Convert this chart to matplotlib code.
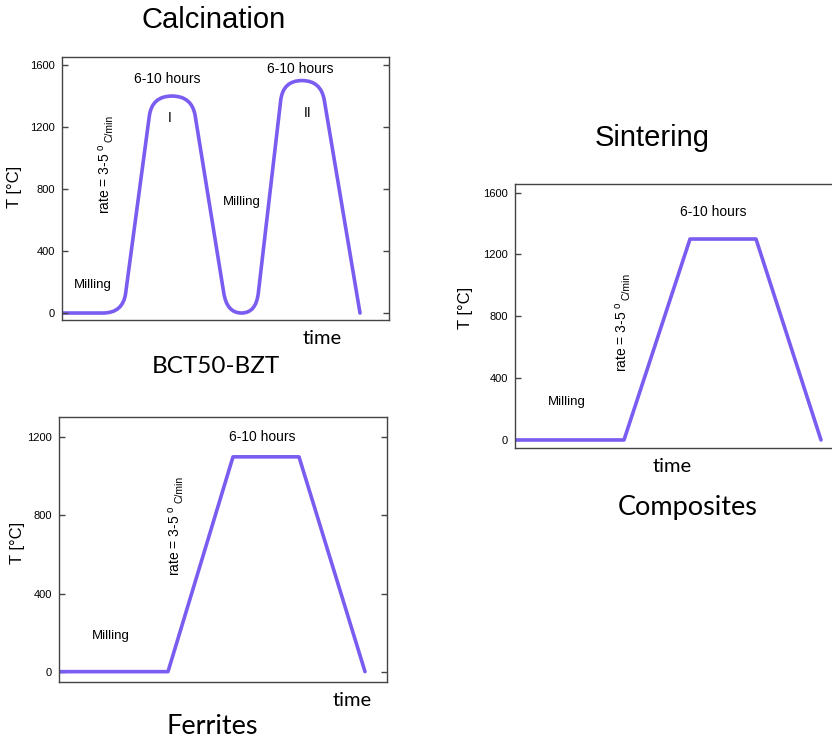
import numpy as np
import matplotlib
matplotlib.use("Agg")
import matplotlib.pyplot as plt
from matplotlib.path import Path
from matplotlib.patches import PathPatch

plt.rcParams['font.family'] = ['Liberation Sans', 'DejaVu Sans']
plt.rcParams['mathtext.fontset'] = 'custom'
plt.rcParams['mathtext.rm'] = 'Liberation Sans'

W, H = 832, 742
LINE = '#7b5cf0'

# heating profiles (time in arbitrary units, T in degC)
calc_t = [0, 61, 90, 130, 165, 194, 221, 259, 298]
calc_T = [0, 0, 1400, 1400, 0, 0, 1500, 1500, 0]
sint_t = [0, 109, 175, 241, 306]
sint_T = [0, 0, 1300, 1300, 0]
ferr_t = [0, 109, 174, 240, 306]
ferr_T = [0, 0, 1100, 1100, 0]

calc_ticks = [0, 400, 800, 1200, 1600]
sint_ticks = [0, 400, 800, 1200, 1600]
ferr_ticks = [0, 400, 800, 1200]

fig = plt.figure(figsize=(W / 100, H / 100), dpi=100)


def make_axes(l, t, r, b):
    return fig.add_axes([l / W, 1 - b / H, (r - l) / W, (b - t) / H])


def style(ax, ticks, xlim, ylim, lab_xy):
    ax.set_xlim(*xlim)
    ax.set_ylim(*ylim)
    ax.set_xticks([])
    ax.set_yticks(ticks)
    ax.tick_params(axis='y', direction='in', length=4.5, width=1, labelsize=8,
                   right=True, color='#444444', pad=5)
    for s in ax.spines.values():
        s.set_color('#444444')
        s.set_linewidth(1.0)
    ax.set_ylabel('T [°C]', fontsize=12)
    ax.yaxis.set_label_coords(*lab_xy)


def rounded_path(ax, xs, ys, r=20):
    # straight segments with quadratic-bezier corners of about r pixels
    fig.canvas.draw()
    bb = ax.get_window_extent()
    x0, x1 = ax.get_xlim()
    y0, y1 = ax.get_ylim()
    sx = bb.width / (x1 - x0)
    sy = bb.height / (y1 - y0)
    pts = np.column_stack([xs, ys]).astype(float)
    verts = [pts[0]]
    codes = [Path.MOVETO]
    for i in range(1, len(pts) - 1):
        p, v, n = pts[i - 1], pts[i], pts[i + 1]
        lp = np.hypot((p[0] - v[0]) * sx, (p[1] - v[1]) * sy)
        ln = np.hypot((n[0] - v[0]) * sx, (n[1] - v[1]) * sy)
        a = v + (p - v) * min(r / lp, 0.5)
        b = v + (n - v) * min(r / ln, 0.5)
        verts += [a, v, b]
        codes += [Path.LINETO, Path.CURVE3, Path.CURVE3]
    verts.append(pts[-1])
    codes.append(Path.LINETO)
    return Path(verts, codes)


def rate_label(ax, x, y):
    # "rate = 3-5 °C/min" with a raised "o" and a smaller, lowered unit
    t1 = ax.text(x, y, r'rate = 3-5 $^{\mathregular{o}}$', ha='center',
                 va='center', rotation=90, fontsize=10)
    ax.annotate('C/min', xy=(1.0, 1.0), xycoords=t1, xytext=(1, 1),
                textcoords='offset points', ha='right', va='bottom',
                rotation=90, fontsize=7.5)


# Calcination
ax1 = make_axes(62, 57, 389, 320)
style(ax1, calc_ticks, (0, 327), (-45, 1652), (-0.122, 0.506))
ax1.add_patch(PathPatch(rounded_path(ax1, calc_t, calc_T), fill=False,
                        edgecolor=LINE, lw=2.6, capstyle='round'))
ax1.text(105, 1509, '6-10 hours', ha='center', va='center', fontsize=10)
ax1.text(238, 1574, '6-10 hours', ha='center', va='center', fontsize=10)
ax1.text(108, 1258, 'I', ha='center', va='center', fontsize=10)
ax1.text(246, 1290, 'II', ha='center', va='center', fontsize=10)
rate_label(ax1, 43, 867)
ax1.text(31, 181, 'Milling', ha='center', va='center', fontsize=9.5)
ax1.text(180, 716, 'Milling', ha='center', va='center', fontsize=9.5)

# Sintering
ax2 = make_axes(515, 184, 840, 448)
style(ax2, sint_ticks, (0, 325), (-52, 1656), (-0.129, 0.53))
ax2.plot(sint_t, sint_T, color=LINE, lw=2.6, solid_capstyle='round')
ax2.text(198, 1475, '6-10 hours', ha='center', va='center', fontsize=10)
ax2.text(52, 246, 'Milling', ha='center', va='center', fontsize=9.5)
rate_label(ax2, 107, 667)

# Ferrites
ax3 = make_axes(59, 417, 387, 682)
style(ax3, ferr_ticks, (0, 328), (-53, 1304), (-0.104, 0.525))
ax3.plot(ferr_t, ferr_T, color=LINE, lw=2.6, solid_capstyle='round')
ax3.text(203, 1202, '6-10 hours', ha='center', va='center', fontsize=10)
ax3.text(52, 183, 'Milling', ha='center', va='center', fontsize=9.5)
rate_label(ax3, 116, 673)


def ftext(x, y, s, size, family):
    fig.text(x / W, 1 - y / H, s, ha='center', va='center', fontsize=size,
             family=family)


ftext(214, 20, 'Calcination', 21, 'Liberation Sans')
ftext(652, 138, 'Sintering', 21, 'Liberation Sans')
ftext(216, 366, 'BCT50-BZT', 17.5, 'Lato')
ftext(688, 507, 'Composites', 19.5, 'Lato')
ftext(212, 727, 'Ferrites', 19.5, 'Lato')
ftext(322, 338, 'time', 14.5, 'Lato')
ftext(672, 467, 'time', 14.5, 'Lato')
ftext(352, 701, 'time', 14.5, 'Lato')

fig.savefig('out.png', dpi=100)
